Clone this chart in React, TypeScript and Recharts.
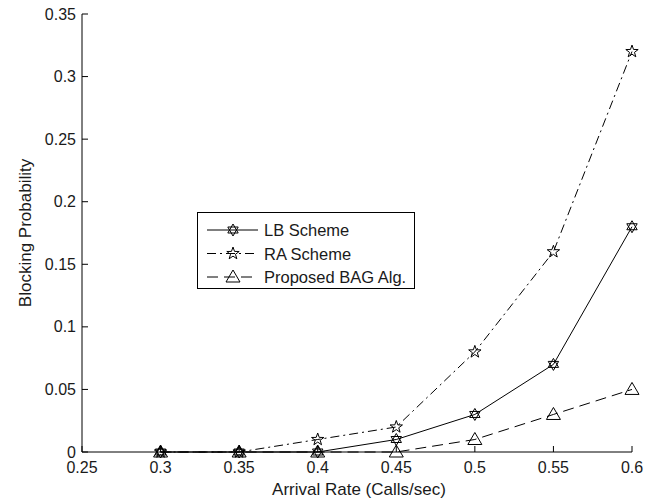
import React from "react";
import { LineChart, Line, XAxis, YAxis, Legend } from "recharts";

// values
const arrivalRates = [0.3, 0.35, 0.4, 0.45, 0.5, 0.55, 0.6];
const lbScheme = [0, 0, 0, 0.01, 0.03, 0.07, 0.18];
const raScheme = [0, 0, 0.01, 0.02, 0.08, 0.16, 0.32];
const bagAlg = [0, 0, 0, 0, 0.01, 0.03, 0.05];

const xTicks = [0.25, 0.3, 0.35, 0.4, 0.45, 0.5, 0.55, 0.6];
const yTicks = [0, 0.05, 0.1, 0.15, 0.2, 0.25, 0.3, 0.35];
const seriesNames = ["LB Scheme", "RA Scheme", "Proposed BAG Alg."];

const data = arrivalRates.map((x, i) => ({
  x,
  lb: lbScheme[i],
  ra: raScheme[i],
  bag: bagAlg[i],
}));

const FONT = "'Liberation Sans', Arial, sans-serif";
const INK = "#000";
const TXT = "#1a1a1a";
const TICK = 6;

const hexagramPath = (cx: number, cy: number, r: number) => {
  const pt = (deg: number) => {
    const a = (deg * Math.PI) / 180;
    return `${cx + r * Math.cos(a)},${cy + r * Math.sin(a)}`;
  };
  return `M${pt(-90)}L${pt(30)}L${pt(150)}Z M${pt(90)}L${pt(210)}L${pt(330)}Z`;
};

const pentagramPath = (cx: number, cy: number, r: number) => {
  const pts: string[] = [];
  for (let k = 0; k < 10; k++) {
    const rr = k % 2 === 0 ? r : r * 0.4;
    const a = ((-90 + k * 36) * Math.PI) / 180;
    pts.push(`${cx + rr * Math.cos(a)},${cy + rr * Math.sin(a)}`);
  }
  return `M${pts.join("L")}Z`;
};

const trianglePath = (cx: number, cy: number) =>
  `M${cx},${cy - 7}L${cx + 7},${cy + 5}L${cx - 7},${cy + 5}Z`;

const Marker = ({ kind, cx, cy }: { kind: string; cx: number; cy: number }) => {
  const d =
    kind === "lb"
      ? hexagramPath(cx, cy, 6)
      : kind === "ra"
      ? pentagramPath(cx, cy, 6.5)
      : trianglePath(cx, cy);
  return <path d={d} fill="none" stroke={INK} strokeWidth={1} />;
};

const dotFor = (kind: string) => (p: any) =>
  <Marker key={`${kind}-${p.index}`} kind={kind} cx={p.cx} cy={p.cy} />;

const dashes: Record<string, string | undefined> = {
  lb: undefined,
  ra: "9 4 2 4",
  bag: "11 6",
};

const BottomTick = ({ x, y, payload }: any) => (
  <g>
    <line x1={x} y1={y} x2={x} y2={y - TICK} stroke={INK} />
    <text x={x} y={y + 21} textAnchor="middle" fontSize={16} fontFamily={FONT} fill={TXT}>
      {String(payload.value)}
    </text>
  </g>
);

const TopTick = ({ x, y }: any) => (
  <line x1={x} y1={y} x2={x} y2={y + TICK} stroke={INK} />
);

const LeftTick = ({ x, y, payload }: any) => (
  <g>
    <line x1={x} y1={y} x2={x + TICK} y2={y} stroke={INK} />
    <text x={x - 6} y={y + 5.5} textAnchor="end" fontSize={16} fontFamily={FONT} fill={TXT}>
      {String(payload.value)}
    </text>
  </g>
);

const RightTick = ({ x, y }: any) => (
  <line x1={x} y1={y} x2={x - TICK} y2={y} stroke={INK} />
);

const XTitle = () => (
  <text x={359} y={495} textAnchor="middle" fontSize={17} fontFamily={FONT} fill={TXT}>
    Arrival Rate (Calls/sec)
  </text>
);

const YTitle = () => (
  <text
    transform="translate(25,233) rotate(-90)"
    textAnchor="middle"
    dominantBaseline="central"
    fontSize={17}
    fontFamily={FONT}
    fill={TXT}
  >
    Blocking Probability
  </text>
);

const keys = ["lb", "ra", "bag"];

const LegendBox = () => (
  <svg width={218} height={77} style={{ display: "block" }}>
    <rect x={0.5} y={0.5} width={217} height={76} fill="#fff" stroke={INK} />
    {seriesNames.map((name, i) => {
      const cy = 18 + i * 23.5;
      return (
        <g key={name}>
          <line x1={10} y1={cy} x2={61} y2={cy} stroke={INK} strokeDasharray={dashes[keys[i]]} />
          <Marker kind={keys[i]} cx={36} cy={cy} />
          <text x={67} y={cy + 6} fontSize={16.5} fontFamily={FONT} fill={TXT}>
            {name}
          </text>
        </g>
      );
    })}
  </svg>
);

export default function App() {
  return (
    <div style={{ position: "absolute", left: 0, top: 0, background: "#fff" }}>
      <LineChart
        width={665}
        height={502}
        data={data}
        margin={{ top: 14, right: 33, left: 0, bottom: 0 }}
      >
        <XAxis
          xAxisId="bottom"
          dataKey="x"
          type="number"
          domain={[0.25, 0.6]}
          ticks={xTicks}
          interval={0}
          height={50}
          stroke={INK}
          tickLine={false}
          tickSize={0}
          tickMargin={0}
          tick={<BottomTick />}
          label={<XTitle />}
        />
        <XAxis
          xAxisId="top"
          orientation="top"
          dataKey="x"
          type="number"
          domain={[0.25, 0.6]}
          ticks={xTicks}
          interval={0}
          height={0}
          stroke={INK}
          tickLine={false}
          tickSize={0}
          tickMargin={0}
          tick={<TopTick />}
        />
        <YAxis
          yAxisId="left"
          type="number"
          domain={[0, 0.35]}
          ticks={yTicks}
          interval={0}
          width={82}
          stroke={INK}
          tickLine={false}
          tickSize={0}
          tickMargin={0}
          tick={<LeftTick />}
          label={<YTitle />}
        />
        <YAxis
          yAxisId="right"
          orientation="right"
          type="number"
          domain={[0, 0.35]}
          ticks={yTicks}
          interval={0}
          width={0}
          stroke={INK}
          tickLine={false}
          tickSize={0}
          tickMargin={0}
          tick={<RightTick />}
        />
        <Legend
          layout="vertical"
          align="center"
          verticalAlign="middle"
          wrapperStyle={{ left: 197, top: 212, width: 218, height: 77 }}
          content={() => <LegendBox />}
        />
        {keys.map((k) => (
          <Line
            key={k}
            xAxisId="bottom"
            yAxisId="left"
            dataKey={k}
            name={seriesNames[keys.indexOf(k)]}
            stroke={INK}
            strokeWidth={1}
            strokeDasharray={dashes[k]}
            dot={dotFor(k)}
            activeDot={false}
            isAnimationActive={false}
          />
        ))}
      </LineChart>
    </div>
  );
}
